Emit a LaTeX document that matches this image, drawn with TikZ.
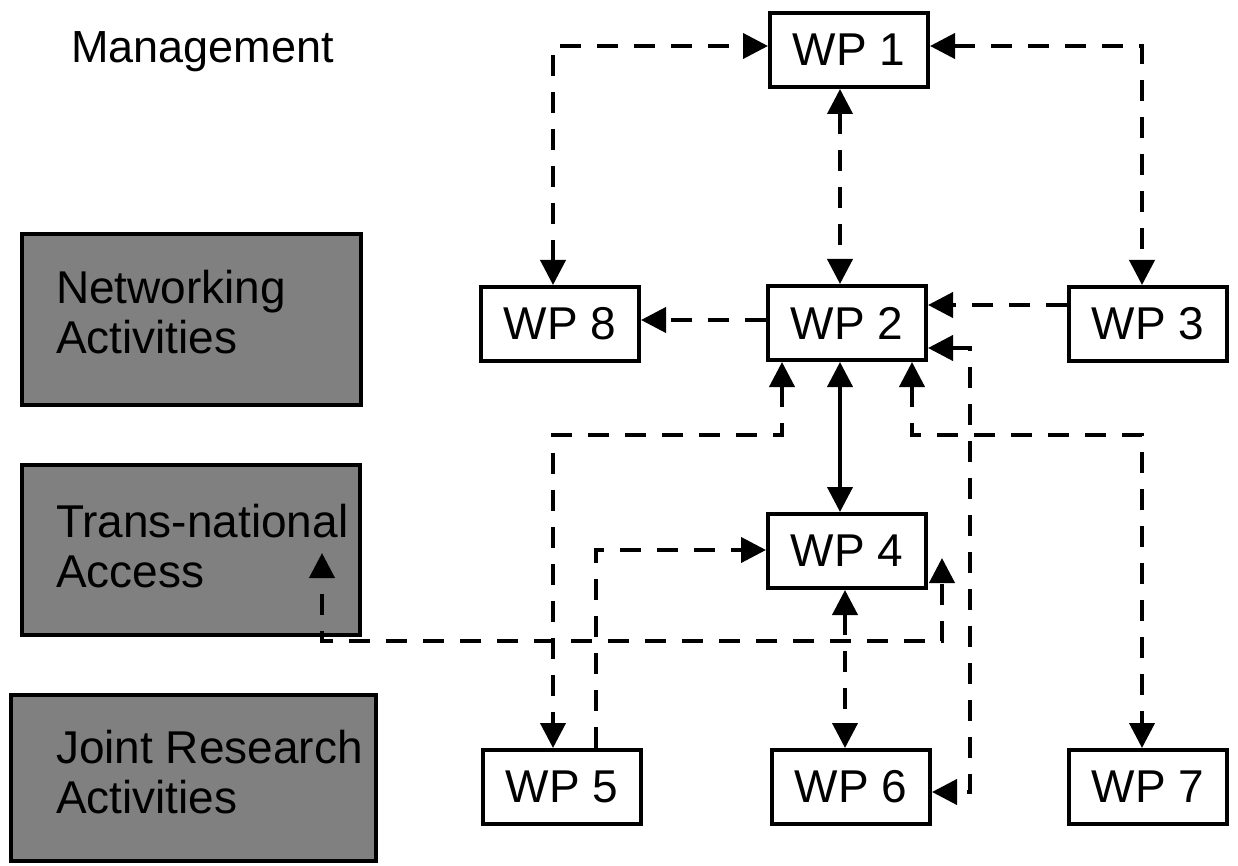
\documentclass[tikz,border=0pt]{standalone}
\usepackage{fontspec}
\setmainfont{Liberation Sans}
\usetikzlibrary{arrows.meta}
\definecolor{grayfill}{RGB}{128,128,128}
\begin{document}
\begin{tikzpicture}[x=1pt,y=-1pt,line width=4pt,line join=miter,
  >={Triangle[length=25pt,width=25pt]},
  wp/.style={draw,fill=white,minimum width=158pt,minimum height=74pt,inner sep=0pt,
    font=\fontsize{46}{50}\selectfont},
  grp/.style={draw,fill=grayfill,inner sep=0pt},
  lbl/.style={anchor=base west,align=left,inner sep=0pt,font=\fontsize{46}{50}\selectfont},
  dl/.style={dash pattern=on 21pt off 16pt}]
\useasboundingbox (0,0) rectangle (1238,866);
% group boxes
\node[grp,minimum width=339pt,minimum height=171pt] (netbox) at (191.5,319.5) {};
\node[grp,minimum width=338pt,minimum height=170pt] (tnabox) at (191,550) {};
\node[grp,minimum width=365pt,minimum height=166pt] (jrabox) at (193.5,778) {};
\node[lbl,font=\fontsize{45}{50}\selectfont] (mgmt) at (69,63) {Management};
\node[lbl] (nettext) at (54,353) {Networking\\Activities};
\node[lbl] (tnatext) at (54,587) {Trans-national\\Access};
\node[lbl] (jratext) at (54,813) {Joint Research\\Activities};
% work packages
\node[wp] (wp1) at (849,50) {WP 1};
\node[wp] (wp2) at (847,323) {WP 2};
\node[wp] (wp3) at (1148,324) {WP 3};
\node[wp] (wp8) at (560,324) {WP 8};
\node[wp] (wp4) at (847,551) {WP 4};
\node[wp] (wp5) at (562,787) {WP 5};
\node[wp] (wp6) at (851,787) {WP 6};
\node[wp] (wp7) at (1148,787) {WP 7};
\coordinate (ta) at (322,553);
\coordinate (tb) at (942,558);
% connectors
\draw[dl,<->] ([xshift=-7pt]wp8.north) |- ([yshift=4pt]wp1.west);
\draw[dl,<->] ([yshift=4pt]wp1.east) -| ([xshift=-6pt]wp3.north);
\draw[dl,<->] ([xshift=-7pt]wp2.north |- wp1.south) -- ([xshift=-7pt]wp2.north);
\draw[dl,->] ([yshift=3pt]wp2.west) -- ([yshift=3pt]wp2.west -| wp8.east);
\draw[dl,->] ([yshift=19pt]wp3.west) -- ([yshift=19pt]wp3.west -| wp2.east);
\draw[<->] ([xshift=-7pt]wp2.south) -- ([xshift=-7pt]wp2.south |- wp4.north);
\draw[dl,<->] ([xshift=-65pt]wp2.south) -- ++(0,73) -| ([xshift=-9pt]wp5.north);
\draw[dl,<->] ([xshift=65pt]wp2.south) -- ++(0,73) -| ([xshift=-6pt]wp7.north);
\draw[dl,<->] ([yshift=-25pt]wp2.east) -- ++(42,0) |- ([yshift=-5pt]wp6.east);
\draw[dl,->] ([xshift=34pt]wp5.north) |- ([yshift=1pt]wp4.west);
\draw[dl,<->] ([xshift=-2pt]wp4.south) -- ([xshift=-2pt]wp4.south |- wp6.north);
\draw[dl,dash phase=20pt,<->] (ta) -- ++(0,88) -| (tb);
\end{tikzpicture}
\end{document}
